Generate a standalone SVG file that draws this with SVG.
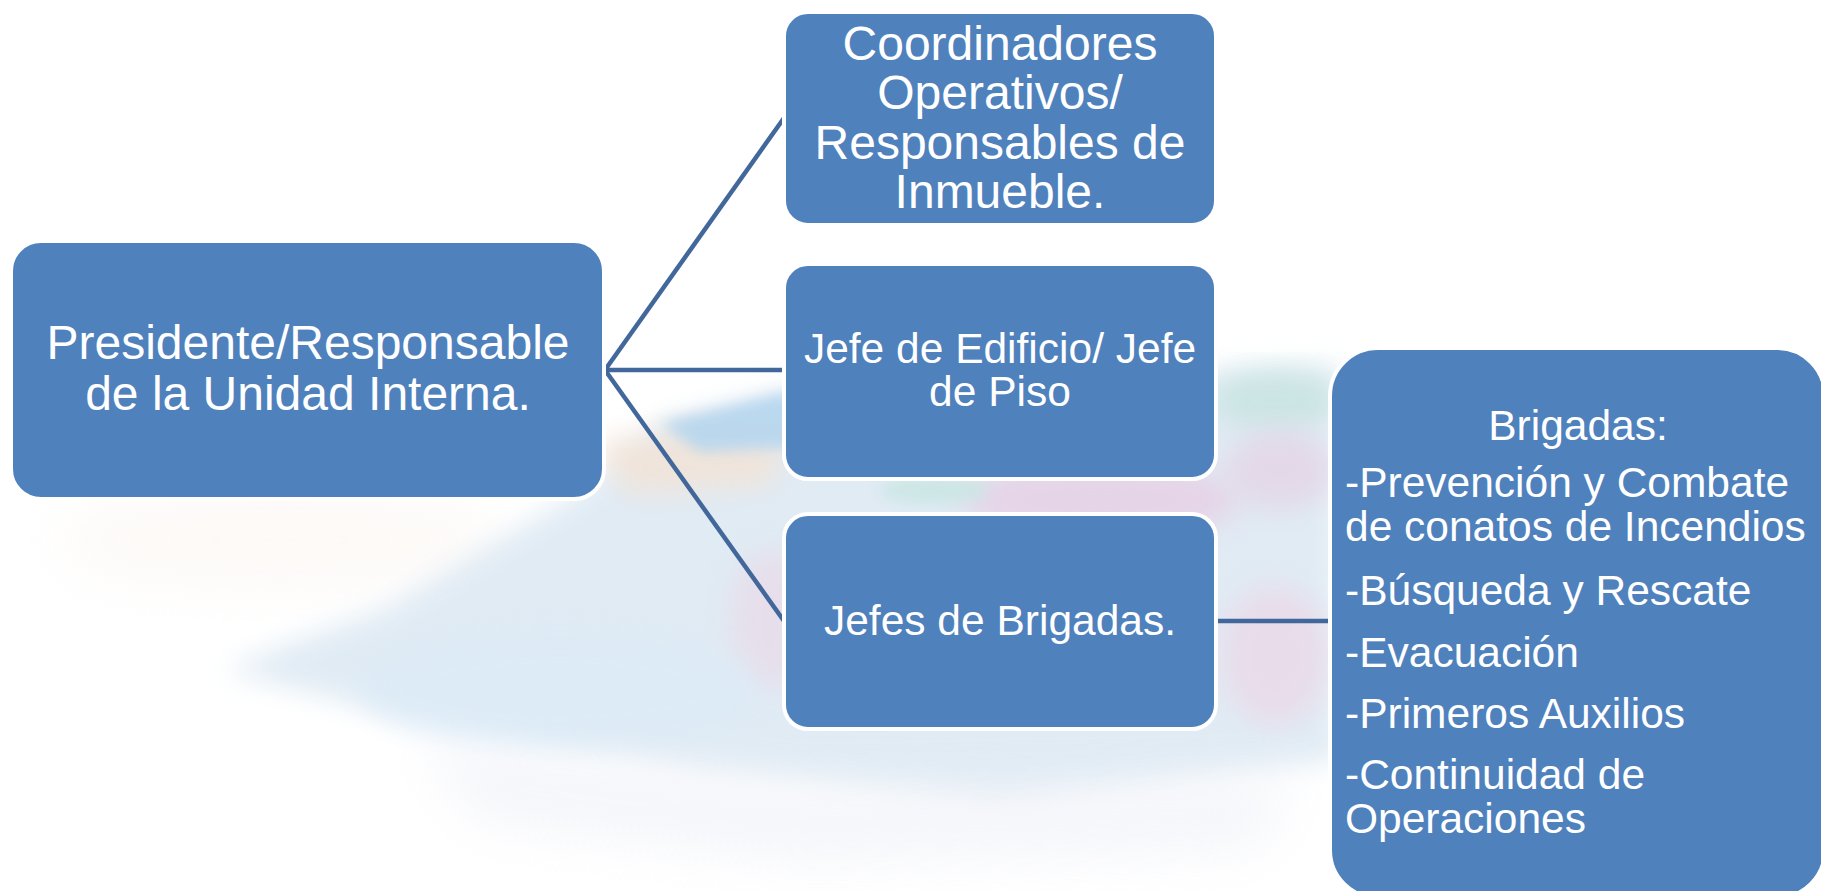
<svg xmlns="http://www.w3.org/2000/svg" width="1821" height="891" viewBox="0 0 1821 891">
  <defs>
    <filter id="blur" x="-30%" y="-30%" width="160%" height="160%">
      <feGaussianBlur stdDeviation="26"/>
    </filter>
    <filter id="blurM" x="-30%" y="-30%" width="160%" height="160%">
      <feGaussianBlur stdDeviation="14"/>
    </filter>
    <filter id="blurS" x="-30%" y="-30%" width="160%" height="160%">
      <feGaussianBlur stdDeviation="7"/>
    </filter>
  </defs>
  <style>
    .box { fill: #4F81BD; stroke: #FFFFFF; stroke-width: 4; }
    .t { font-family: "Liberation Sans", Arial, sans-serif; fill: #FFFFFF; }
    .c { text-anchor: middle; }
    .big { font-size: 48px; }
    .med { font-size: 42.5px; }
    .conn { stroke: #41679B; stroke-width: 4.5; fill: none; stroke-linecap: butt; }
  </style>

  <rect x="0" y="0" width="1821" height="891" fill="#FFFFFF"/>

  <!-- faint watercolor background -->
  <g id="background">
    <ellipse cx="280" cy="540" rx="220" ry="50" fill="#FAF3EE" opacity="0.45" filter="url(#blur)"/>
    <path d="M571,498 L661,423 L777,394 L1339,366 L1339,760 L1000,800 L700,770 L540,740 L360,705 L225,670 L300,640 L384,609 Z" fill="#DDE9F3" opacity="0.9" filter="url(#blurM)"/>
    <path d="M420,740 L800,790 L1300,780 L1250,850 L800,860 L480,820 Z" fill="#F0F2F8" opacity="0.7" filter="url(#blur)"/>
    <path d="M590,445 L700,425 L790,440 L770,485 L630,495 Z" fill="#F3E3D6" opacity="0.85" filter="url(#blurM)"/>
    <path d="M661,423 L777,394 L1000,384 L930,440 L700,452 Z" fill="#B6D6EE" opacity="0.9" filter="url(#blurS)"/>
    <ellipse cx="1100" cy="500" rx="140" ry="40" fill="#E6D2E6" opacity="0.9" filter="url(#blurM)"/>
    <ellipse cx="935" cy="490" rx="55" ry="14" fill="#CBE6E4" opacity="0.9" filter="url(#blurS)"/>
    <ellipse cx="1275" cy="400" rx="65" ry="30" fill="#C9E4E2" opacity="0.9" filter="url(#blurM)"/>
    <ellipse cx="1280" cy="470" rx="55" ry="40" fill="#E4D4E6" opacity="0.8" filter="url(#blurM)"/>
    <ellipse cx="1275" cy="655" rx="55" ry="70" fill="#EBD9E8" opacity="0.8" filter="url(#blurM)"/>
    <ellipse cx="770" cy="620" rx="40" ry="70" fill="#EBD7E5" opacity="0.6" filter="url(#blurM)"/>
    <ellipse cx="560" cy="690" rx="200" ry="55" fill="#DCEBF7" opacity="0.8" filter="url(#blurM)"/>
  </g>

  <g id="connectors">
    <line class="conn" x1="605" y1="370" x2="784" y2="118"/>
    <line class="conn" x1="605" y1="370" x2="784" y2="370"/>
    <line class="conn" x1="605" y1="370" x2="784" y2="621"/>
    <line class="conn" x1="1216" y1="621" x2="1330" y2="621"/>
  </g>

  <g id="node-presidente">
    <rect class="box" x="11" y="241" width="593" height="258" rx="30" ry="30"/>
    <text class="t c big" x="308" y="359">Presidente/Responsable</text>
    <text class="t c big" x="308" y="410">de la Unidad Interna.</text>
  </g>

  <g id="node-coordinadores">
    <rect class="box" x="784" y="12" width="432" height="213" rx="24" ry="24"/>
    <text class="t c big" x="1000" y="60">Coordinadores</text>
    <text class="t c big" x="1000" y="109">Operativos/</text>
    <text class="t c big" x="1000" y="159">Responsables de</text>
    <text class="t c big" x="1000" y="208">Inmueble.</text>
  </g>

  <g id="node-jefe-edificio">
    <rect class="box" x="784" y="264" width="432" height="215" rx="24" ry="24"/>
    <text class="t c med" x="1000" y="363">Jefe de Edificio/ Jefe</text>
    <text class="t c med" x="1000" y="406">de Piso</text>
  </g>

  <g id="node-jefes-brigadas">
    <rect class="box" x="784" y="514" width="432" height="215" rx="24" ry="24"/>
    <text class="t c med" x="1000" y="635">Jefes de Brigadas.</text>
  </g>

  <g id="node-brigadas">
    <rect class="box" x="1330" y="348" width="495" height="550" rx="48" ry="48"/>
    <text class="t c med" x="1578" y="440">Brigadas:</text>
    <text class="t med" x="1345" y="497">-Prevención y Combate</text>
    <text class="t med" x="1345" y="541">de conatos de Incendios</text>
    <text class="t med" x="1345" y="605">-Búsqueda y Rescate</text>
    <text class="t med" x="1345" y="667">-Evacuación</text>
    <text class="t med" x="1345" y="728">-Primeros Auxilios</text>
    <text class="t med" x="1345" y="789">-Continuidad de</text>
    <text class="t med" x="1345" y="833">Operaciones</text>
  </g>
</svg>
